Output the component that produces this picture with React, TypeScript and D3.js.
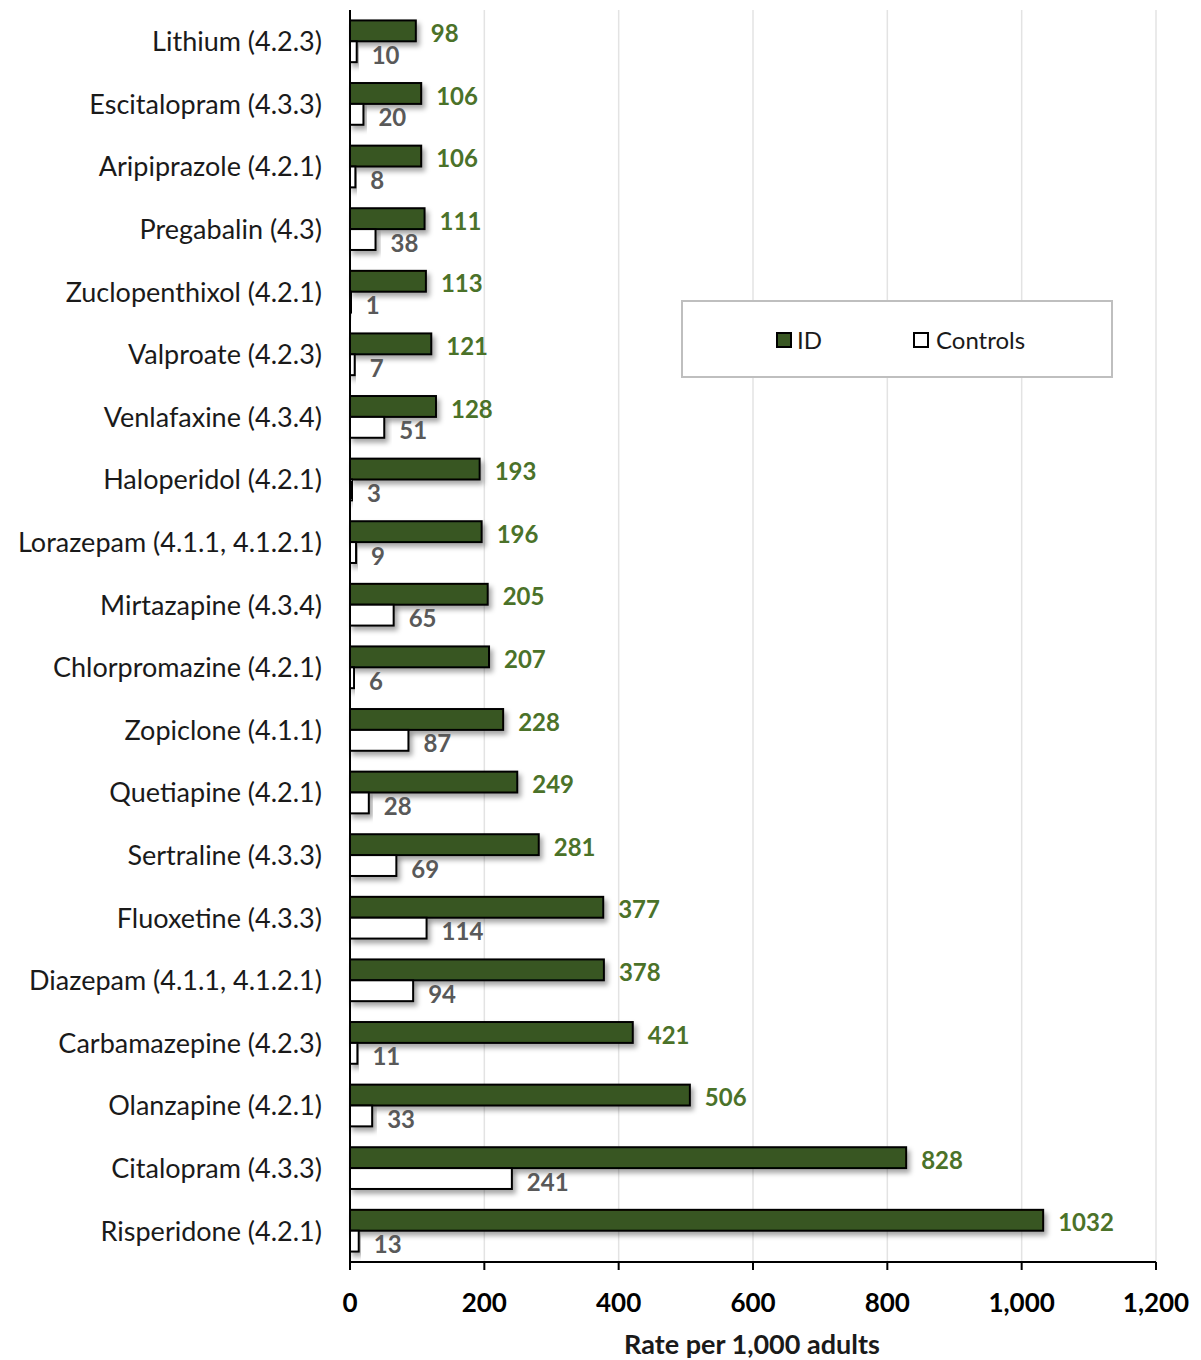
import React from "react";
import * as d3 from "d3";

const categories = [
  "Lithium (4.2.3)",
  "Escitalopram (4.3.3)",
  "Aripiprazole (4.2.1)",
  "Pregabalin (4.3)",
  "Zuclopenthixol (4.2.1)",
  "Valproate (4.2.3)",
  "Venlafaxine (4.3.4)",
  "Haloperidol (4.2.1)",
  "Lorazepam (4.1.1, 4.1.2.1)",
  "Mirtazapine (4.3.4)",
  "Chlorpromazine (4.2.1)",
  "Zopiclone (4.1.1)",
  "Quetiapine (4.2.1)",
  "Sertraline (4.3.3)",
  "Fluoxetine (4.3.3)",
  "Diazepam (4.1.1, 4.1.2.1)",
  "Carbamazepine (4.2.3)",
  "Olanzapine (4.2.1)",
  "Citalopram (4.3.3)",
  "Risperidone (4.2.1)",
];
const idValues = [98, 106, 106, 111, 113, 121, 128, 193, 196, 205, 207, 228, 249, 281, 377, 378, 421, 506, 828, 1032];
const controlValues = [10, 20, 8, 38, 1, 7, 51, 3, 9, 65, 6, 87, 28, 69, 114, 94, 11, 33, 241, 13];
const xTicks = [0, 200, 400, 600, 800, 1000, 1200];
const seriesNames = ["ID", "Controls"];
const axisTitle = "Rate per 1,000 adults";

const W = 1201;
const H = 1360;
const left = 350;
const right = 1156;
const top = 10;
const bottom = 1262;
const FONT = "Lato, 'Open Sans', sans-serif";
const ID_FILL = "#395723";
const ID_LABEL = "#4b7229";
const CTRL_LABEL = "#595959";

export default function App() {
  const x = d3.scaleLinear().domain([0, 1200]).range([left, right]);
  const y = d3.scaleBand<string>().domain(categories).range([top, bottom]).paddingInner(0).paddingOuter(0);
  const bw = y.bandwidth();
  const barH = bw / 3;
  const fmt = d3.format(",");

  return (
    <svg width={W} height={H} style={{ position: "absolute", left: 0, top: 0, display: "block", background: "#fff" }} fontFamily={FONT}>
      <defs>
        <filter id="shadow" x="-10%" y="-50%" width="130%" height="250%">
          <feDropShadow dx="3" dy="4" stdDeviation="2.5" floodColor="#000" floodOpacity="0.35" />
        </filter>
      </defs>
      {xTicks.filter((t) => t > 0).map((t) => (
        <line key={"g" + t} x1={x(t)} x2={x(t)} y1={top} y2={bottom} stroke="#e3e3e3" strokeWidth={1.5} />
      ))}
      {categories.map((c, i) => {
        const y0 = (y(c) as number) + bw / 2 - barH;
        return (
          <g key={c}>
            <rect x={x(0)} y={y0} width={x(idValues[i]) - x(0)} height={barH} fill={ID_FILL} stroke="#000" strokeWidth={2} filter="url(#shadow)" />
            <rect x={x(0)} y={y0 + barH} width={Math.max(x(controlValues[i]) - x(0), 1)} height={barH} fill="#fff" stroke="#000" strokeWidth={2} filter="url(#shadow)" />
            <text x={x(idValues[i]) + 15} y={y0 + barH / 2 + 5} fill={ID_LABEL} fontWeight="bold" fontSize={24} dominantBaseline="middle">
              {idValues[i]}
            </text>
            <text x={x(controlValues[i]) + 15} y={y0 + barH * 1.5 + 6} fill={CTRL_LABEL} fontWeight="bold" fontSize={24} dominantBaseline="middle">
              {controlValues[i]}
            </text>
            <text x={left - 28} y={(y(c) as number) + bw / 2 + 3} textAnchor="end" dominantBaseline="middle" fontSize={27} fill="#1a1a1a">
              {c}
            </text>
          </g>
        );
      })}
      <line x1={left} x2={left} y1={top} y2={bottom} stroke="#000" strokeWidth={2} />
      <line x1={left} x2={right} y1={bottom} y2={bottom} stroke="#000" strokeWidth={2} />
      {xTicks.map((t) => (
        <g key={"t" + t}>
          <line x1={x(t)} x2={x(t)} y1={bottom} y2={bottom + 8} stroke="#000" strokeWidth={2} />
          <text x={x(t)} y={1305} textAnchor="middle" dominantBaseline="middle" fontWeight="bold" fontSize={26} fill="#000">
            {fmt(t)}
          </text>
        </g>
      ))}
      <text x={752} y={1347} textAnchor="middle" dominantBaseline="middle" fontWeight="bold" fontSize={27} fill="#1a1a1a">
        {axisTitle}
      </text>
      <rect x={682} y={301} width={430} height={76} fill="#fff" stroke="#bfbfbf" strokeWidth={2} />
      <rect x={777} y={333} width={14} height={14} fill={ID_FILL} stroke="#000" strokeWidth={2} />
      <text x={797} y={343} dominantBaseline="middle" fontSize={24} fill="#1a1a1a">{seriesNames[0]}</text>
      <rect x={914} y={333} width={14} height={14} fill="#fff" stroke="#000" strokeWidth={2} />
      <text x={936} y={343} dominantBaseline="middle" fontSize={24} fill="#1a1a1a">{seriesNames[1]}</text>
    </svg>
  );
}
